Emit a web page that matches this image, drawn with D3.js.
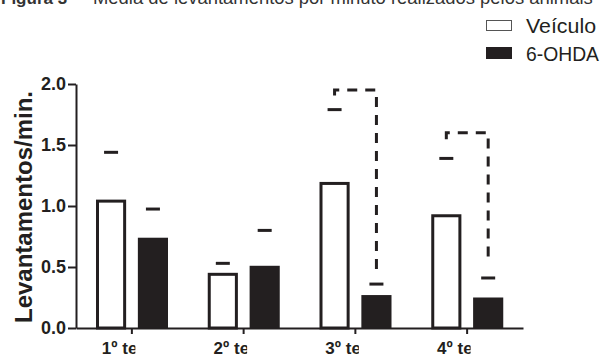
<!DOCTYPE html>
<html><head><meta charset="utf-8">
<script src="https://cdn.jsdelivr.net/npm/d3@7"></script>
<style>
html,body{margin:0;padding:0;background:#fff;}
svg{display:block;font-family:"Liberation Sans",Arial,sans-serif;}
</style></head>
<body>
<script>
// ---- data ----
const categories = ["1º teste", "2º teste", "3º teste", "4º teste"];
const series = ["Veículo", "6-OHDA"];
const veiculoMean = [1.04, 0.44, 1.185, 0.92];
const ohdaMean = [0.74, 0.51, 0.27, 0.25];
const veiculoErrTop = [1.44, 0.53, 1.79, 1.39];
const ohdaErrTop = [0.975, 0.80, 0.36, 0.41];
const bracketTop = [null, null, 1.95, 1.60];
const bracketLeftEnd = [null, null, 1.89, 1.53];
const bracketRightEnd = [null, null, 0.475, 0.52];
const yTicks = [0, 0.5, 1.0, 1.5, 2.0];
const titleBold = "Figura 3 –";
const titleRest = "Média de levantamentos por minuto realizados pelos animais";
const yLabel = "Levantamentos/min.";

const W = 603, H = 356;
const ink = "#231f20";
const svg = d3.select("body").append("svg").attr("width", W).attr("height", H);

// scales
const x0 = d3.scaleBand().domain(categories).range([76, 523]).padding(0);
const x1 = d3.scaleBand().domain(series).range([20, 92]).paddingInner(0.28).paddingOuter(0);
const y = d3.scaleLinear().domain([0, 2]).range([328, 84]);

// title (clipped at top of image, as in the reference)
svg.append("text").attr("x", 1).attr("y", 4).attr("font-size", 17)
  .attr("font-weight", "bold").attr("fill", "#333").text(titleBold);
const tr = svg.append("text").attr("x", 93).attr("y", 4).attr("font-size", 17)
  .attr("fill", "#333").text(titleRest);
const len = tr.node().getComputedTextLength();
tr.attr("font-size", 17 * 500 / len);

// legend
const legend = svg.append("g");
legend.append("rect").attr("x", 486.5).attr("y", 20.5).attr("width", 25).attr("height", 10)
  .attr("fill", "#fff").attr("stroke", "#555").attr("stroke-width", 1);
const l1 = legend.append("text").attr("x", 526).attr("y", 33).attr("font-size", 20).attr("fill", ink).text(series[0]);
legend.append("rect").attr("x", 486).attr("y", 47).attr("width", 26).attr("height", 12).attr("fill", ink);
const l2 = legend.append("text").attr("x", 526).attr("y", 61).attr("font-size", 20).attr("fill", ink).text(series[1]);
l1.attr("textLength", 70).attr("lengthAdjust", "spacingAndGlyphs");
l2.attr("textLength", 73).attr("lengthAdjust", "spacingAndGlyphs");

// data rows
const rows = categories.map((c, i) => ({
  cat: c,
  vals: [
    {s: series[0], v: veiculoMean[i], e: veiculoErrTop[i]},
    {s: series[1], v: ohdaMean[i], e: ohdaErrTop[i]}
  ],
  bt: bracketTop[i], bl: bracketLeftEnd[i], br: bracketRightEnd[i]
}));

const groups = svg.append("g").selectAll("g").data(rows).join("g")
  .attr("transform", d => `translate(${x0(d.cat)},0)`);

const bw = x1.bandwidth();
// bars
groups.selectAll("rect.bar").data(d => d.vals).join("rect")
  .attr("class", "bar")
  .attr("x", d => d.s === series[0] ? x1(d.s) + 1.5 : x1(d.s))
  .attr("width", d => d.s === series[0] ? bw - 3 : bw)
  .attr("y", d => y(d.v))
  .attr("height", d => y(0) - y(d.v))
  .attr("fill", d => d.s === series[0] ? "#fff" : ink)
  .attr("stroke", d => d.s === series[0] ? ink : "none")
  .attr("stroke-width", 3);

// error caps (whiskers are not visible in the reference)
groups.selectAll("line.cap").data(d => d.vals).join("line")
  .attr("class", "cap")
  .attr("x1", d => x1(d.s) + bw / 2 - 7).attr("x2", d => x1(d.s) + bw / 2 + 7)
  .attr("y1", d => y(d.e)).attr("y2", d => y(d.e))
  .attr("stroke", ink).attr("stroke-width", 3);

// significance brackets
groups.filter(d => d.bt !== null).append("path")
  .attr("d", d => {
    const xl = x1(series[0]) + bw / 2, xr = x1(series[1]) + bw / 2;
    return `M${xl},${y(d.bl)}V${y(d.bt)}H${xr}V${y(d.br)}`;
  })
  .attr("fill", "none").attr("stroke", ink).attr("stroke-width", 3)
  .attr("stroke-dasharray", "10,8").attr("stroke-dashoffset", -2);

// y axis
const yAxis = svg.append("g").attr("transform", "translate(76,0)")
  .call(d3.axisLeft(y).tickValues(yTicks).tickFormat(d3.format(".1f")).tickSize(8).tickSizeOuter(0).tickPadding(2));
yAxis.select(".domain").attr("stroke", ink).attr("stroke-width", 2);
yAxis.selectAll(".tick line").attr("stroke", ink).attr("stroke-width", 2);
yAxis.selectAll(".tick text").attr("font-size", 18).attr("font-weight", "bold")
  .attr("fill", ink).attr("font-family", "Liberation Sans, Arial, sans-serif");

// x axis
const xAxis = svg.append("g").attr("transform", "translate(0,328)")
  .call(d3.axisBottom(x0).tickSize(6).tickSizeOuter(0));
xAxis.select(".domain").attr("stroke", ink).attr("stroke-width", 2);
xAxis.selectAll(".tick line").attr("stroke", ink).attr("stroke-width", 2);
const defs = svg.append("defs");
categories.forEach((c, i) => {
  defs.append("clipPath").attr("id", "xl" + i).append("rect")
    .attr("x", -45).attr("y", 0).attr("width", 48.5).attr("height", 40);
});
xAxis.selectAll(".tick text")
  .attr("y", 26).attr("dy", 0)
  .attr("font-size", 17).attr("font-weight", "bold").attr("fill", ink)
  .attr("font-family", "Liberation Sans, Arial, sans-serif")
  .attr("clip-path", (d, i) => `url(#xl${i})`);

// y label
svg.append("text")
  .attr("transform", `translate(32,${(y(0) + y(2)) / 2 + 1}) rotate(-90)`)
  .attr("text-anchor", "middle").attr("font-size", 24).attr("font-weight", "bold")
  .attr("fill", ink).text(yLabel);
</script>
</body></html>
